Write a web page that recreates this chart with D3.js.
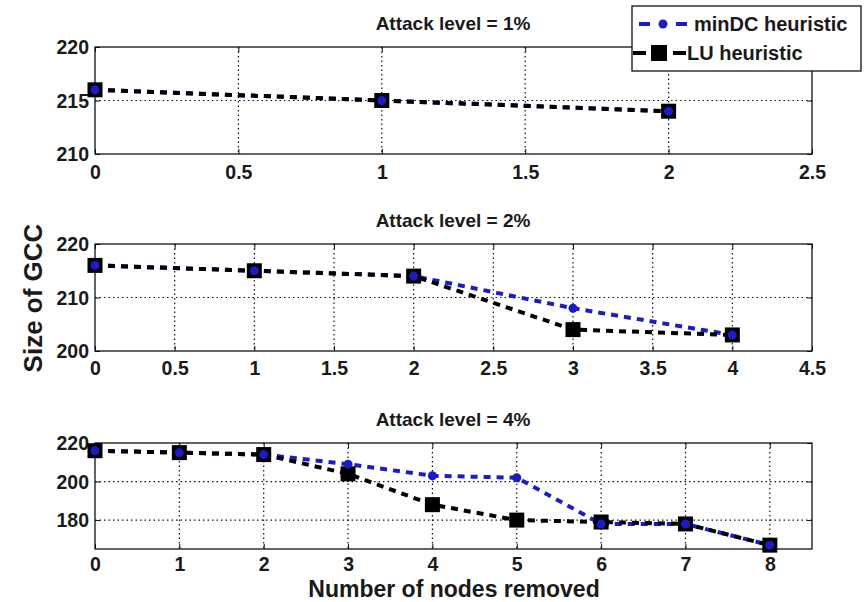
<!DOCTYPE html>
<html>
<head>
<meta charset="utf-8">
<script src="https://cdn.jsdelivr.net/npm/d3@7"></script>
<style>
  html, body { margin: 0; padding: 0; background: #fff; }
  svg { display: block; }
  text { font-family: "Liberation Sans", Arial, sans-serif; fill: #1a1a1a; }
</style>
</head>
<body>
<svg id="chart" width="864" height="602"></svg>
<script>
// ---- data ----
const titles = ["Attack level = 1%", "Attack level = 2%", "Attack level = 4%"];
const seriesNames = ["minDC heuristic", "LU heuristic"];

const nodes1 = [0, 1, 2];
const minDC1 = [216, 215, 214];
const lu1 = [216, 215, 214];

const nodes2 = [0, 1, 2, 3, 4];
const minDC2 = [216, 215, 214, 208, 203];
const lu2 = [216, 215, 214, 204, 203];

const nodes4 = [0, 1, 2, 3, 4, 5, 6, 7, 8];
const minDC4 = [216, 215, 214, 209, 203, 202, 178, 178, 167];
const lu4 = [216, 215, 214, 204, 188, 180, 179, 178, 167];

const xTicks1 = [0, 0.5, 1, 1.5, 2, 2.5];
const xTicks2 = [0, 0.5, 1, 1.5, 2, 2.5, 3, 3.5, 4, 4.5];
const xTicks4 = [0, 1, 2, 3, 4, 5, 6, 7, 8];
const yTicks1 = [210, 215, 220];
const yTicks2 = [200, 210, 220];
const yTicks4 = [180, 200, 220];

const xDomains = [[0, 2.5], [0, 4.5], [0, 8.5]];
const yDomains = [[210, 220], [200, 220], [165, 220]];

// ---- layout ----
const svg = d3.select("#chart");
const left = 95, right = 812;
const tops = [47, 244, 443], bottoms = [154, 351, 549];
const tickLabelOffsets = [18, 17, 15];
const BLUE = "#1c1cc4";

const panels = [
  { x: nodes1, a: minDC1, b: lu1, xt: xTicks1, yt: yTicks1 },
  { x: nodes2, a: minDC2, b: lu2, xt: xTicks2, yt: yTicks2 },
  { x: nodes4, a: minDC4, b: lu4, xt: xTicks4, yt: yTicks4 }
];

panels.forEach((p, i) => {
  const x = d3.scaleLinear().domain(xDomains[i]).range([left, right]);
  const y = d3.scaleLinear().domain(yDomains[i]).range([bottoms[i], tops[i]]);
  const g = svg.append("g");

  // grid (dotted)
  g.append("g").selectAll("line").data(p.xt.filter(t => t > xDomains[i][0] && t < xDomains[i][1]))
    .join("line")
    .attr("x1", d => x(d)).attr("x2", d => x(d))
    .attr("y1", tops[i]).attr("y2", bottoms[i])
    .attr("stroke", "#111").attr("stroke-width", 1.2).attr("stroke-dasharray", "1.5,3");
  g.append("g").selectAll("line").data(p.yt.filter(t => t > yDomains[i][0] && t < yDomains[i][1]))
    .join("line")
    .attr("x1", left).attr("x2", right)
    .attr("y1", d => y(d)).attr("y2", d => y(d))
    .attr("stroke", "#111").attr("stroke-width", 1.2).attr("stroke-dasharray", "1.5,3");

  // axes (ticks inward)
  const fmt = d => String(d);
  const ax = g.append("g").attr("transform", `translate(0,${bottoms[i]})`)
    .call(d3.axisBottom(x).tickValues(p.xt).tickFormat(fmt).tickSize(-5).tickSizeOuter(0));
  ax.selectAll("text").attr("y", tickLabelOffsets[i]).attr("dy", "0.35em");
  const ay = g.append("g").attr("transform", `translate(${left},0)`)
    .call(d3.axisLeft(y).tickValues(p.yt).tickFormat(fmt).tickSize(-5).tickSizeOuter(0));
  ay.selectAll("text").attr("x", -6).attr("dy", "0.35em");
  const axTop = g.append("g").attr("transform", `translate(0,${tops[i]})`)
    .call(d3.axisTop(x).tickValues(p.xt).tickFormat("").tickSize(-5).tickSizeOuter(0));
  const ayR = g.append("g").attr("transform", `translate(${right},0)`)
    .call(d3.axisRight(y).tickValues(p.yt).tickFormat("").tickSize(-5).tickSizeOuter(0));
  [ax, ay, axTop, ayR].forEach(a => {
    a.select(".domain").remove();
    a.selectAll("line").attr("stroke", "#111");
    a.selectAll("text").attr("font-size", 19.5).attr("font-weight", "bold").attr("fill", "#1a1a1a");
  });
  g.append("rect").attr("x", left).attr("y", tops[i])
    .attr("width", right - left).attr("height", bottoms[i] - tops[i])
    .attr("fill", "none").attr("stroke", "#111").attr("stroke-width", 1.3);

  // title
  svg.append("text").attr("x", 453).attr("y", tops[i] - 24).attr("dy", "0.35em")
    .attr("text-anchor", "middle").attr("font-size", 19).attr("font-weight", "bold")
    .text(titles[i]);

  const line = d3.line().x(d => x(d[0])).y(d => y(d[1]));
  const ptsA = p.x.map((v, k) => [v, p.a[k]]);
  const ptsB = p.x.map((v, k) => [v, p.b[k]]);

  g.append("path").datum(ptsA).attr("d", line).attr("fill", "none")
    .attr("stroke", BLUE).attr("stroke-width", 4).attr("stroke-dasharray", "7,6");
  g.append("path").datum(ptsB).attr("d", line).attr("fill", "none")
    .attr("stroke", "#000").attr("stroke-width", 4).attr("stroke-dasharray", "7,6");
  g.append("g").selectAll("rect").data(ptsB).join("rect")
    .attr("x", d => x(d[0]) - 7.5).attr("y", d => y(d[1]) - 7.5)
    .attr("width", 15).attr("height", 15).attr("fill", "#000");
  g.append("g").selectAll("circle").data(ptsA).join("circle")
    .attr("cx", d => x(d[0])).attr("cy", d => y(d[1])).attr("r", 4.5)
    .attr("fill", BLUE);
});

// axis labels
svg.append("text").attr("transform", "translate(33,298) rotate(-90)").attr("dy", "0.35em")
  .attr("text-anchor", "middle").attr("font-size", 26).attr("font-weight", "bold")
  .text("Size of GCC");
svg.append("text").attr("x", 454).attr("y", 589).attr("dy", "0.35em")
  .attr("text-anchor", "middle").attr("font-size", 23).attr("font-weight", "bold")
  .text("Number of nodes removed");

// legend
const lg = svg.append("g");
lg.append("rect").attr("x", 632).attr("y", 6).attr("width", 229).attr("height", 65)
  .attr("fill", "#fff").attr("stroke", "#111").attr("stroke-width", 1.3);
lg.append("line").attr("x1", 639).attr("x2", 650).attr("y1", 24).attr("y2", 24)
  .attr("stroke", BLUE).attr("stroke-width", 4);
lg.append("line").attr("x1", 676).attr("x2", 687).attr("y1", 24).attr("y2", 24)
  .attr("stroke", BLUE).attr("stroke-width", 4);
lg.append("circle").attr("cx", 663).attr("cy", 24).attr("r", 4.5).attr("fill", BLUE);
lg.append("text").attr("x", 694).attr("y", 24).attr("dy", "0.35em")
  .attr("font-size", 20).attr("font-weight", "bold").text(seriesNames[0]);
lg.append("line").attr("x1", 633).attr("x2", 646).attr("y1", 53).attr("y2", 53)
  .attr("stroke", "#000").attr("stroke-width", 4);
lg.append("line").attr("x1", 673).attr("x2", 686).attr("y1", 53).attr("y2", 53)
  .attr("stroke", "#000").attr("stroke-width", 4);
lg.append("rect").attr("x", 651).attr("y", 45).attr("width", 16).attr("height", 16).attr("fill", "#000");
lg.append("text").attr("x", 687).attr("y", 53).attr("dy", "0.35em")
  .attr("font-size", 20).attr("font-weight", "bold").text(seriesNames[1]);
</script>
</body>
</html>
